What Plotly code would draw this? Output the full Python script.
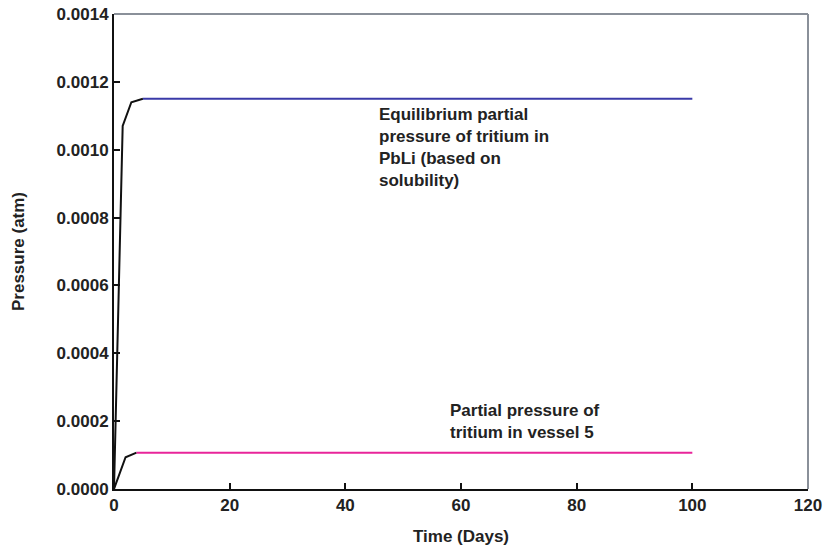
import plotly.graph_objects as go

# Data
t_eq_rise = [0, 1.5, 3, 5]
p_eq_rise = [0, 0.00107, 0.00114, 0.00115]
t_eq_flat = [5, 100]
p_eq_flat = [0.00115, 0.00115]

t_v5_rise = [0, 2, 3.9]
p_v5_rise = [0, 0.0000935, 0.000107]
t_v5_flat = [3.9, 100]
p_v5_flat = [0.000107, 0.000107]

x_ticks = [0, 20, 40, 60, 80, 100, 120]
y_ticks = [0, 0.0002, 0.0004, 0.0006, 0.0008, 0.0010, 0.0012, 0.0014]

FONT = "Liberation Sans Narrow, Arial Narrow, Liberation Sans, Arial, sans-serif"

fig = go.Figure()
fig.add_trace(go.Scatter(x=t_eq_rise, y=p_eq_rise, mode="lines",
                         line=dict(color="#111111", width=2), showlegend=False))
fig.add_trace(go.Scatter(x=t_eq_flat, y=p_eq_flat, mode="lines",
                         line=dict(color="#3a3aa8", width=2), showlegend=False))
fig.add_trace(go.Scatter(x=t_v5_rise, y=p_v5_rise, mode="lines",
                         line=dict(color="#111111", width=2), showlegend=False))
fig.add_trace(go.Scatter(x=t_v5_flat, y=p_v5_flat, mode="lines",
                         line=dict(color="#e8259a", width=2), showlegend=False))

fig.add_annotation(x=45.5, y=0.001138, xref="x", yref="y", xanchor="left", yanchor="top",
                   text="Equilibrium partial<br>pressure of tritium in<br>PbLi (based on<br>solubility)",
                   showarrow=False, align="left",
                   font=dict(family=FONT, size=17, color="#222222", weight="bold"))
fig.add_annotation(x=57.7, y=0.000266, xref="x", yref="y", xanchor="left", yanchor="top",
                   text="Partial pressure of<br>tritium in vessel 5",
                   showarrow=False, align="left",
                   font=dict(family=FONT, size=17, color="#222222", weight="bold"))

# grey top and right frame
fig.add_shape(type="line", xref="paper", yref="paper", x0=0, x1=1, y0=1, y1=1,
              line=dict(color="#8a9099", width=2))
fig.add_shape(type="line", xref="paper", yref="paper", x0=1, x1=1, y0=0, y1=1,
              line=dict(color="#8a9099", width=2))

fig.update_xaxes(range=[0, 120], tickvals=x_ticks, ticks="inside", ticklen=6,
                 tickcolor="#111111", tickwidth=1.5, automargin=False,
                 showline=True, linecolor="#111111", linewidth=2, showgrid=False,
                 zeroline=False,
                 tickfont=dict(family=FONT, size=17, color="#222222", weight="bold"),
                 title=dict(text="Time (Days)", standoff=16,
                            font=dict(family=FONT, size=17, color="#222222", weight="bold")))
fig.update_yaxes(range=[0, 0.0014], tickvals=y_ticks, tickformat=".4f", ticks="inside",
                 ticklen=6, tickcolor="#111111", tickwidth=1.5, automargin=False,
                 showline=True, linecolor="#111111", linewidth=2, showgrid=False,
                 zeroline=False,
                 tickfont=dict(family=FONT, size=17, color="#222222", weight="bold"),
                 title=dict(text="Pressure (atm)", standoff=28,
                            font=dict(family=FONT, size=17, color="#222222", weight="bold")))

fig.update_layout(width=825, height=552, margin=dict(l=114, r=17, t=14, b=63),
                  plot_bgcolor="white", paper_bgcolor="white")

fig.write_html("out.html", config={"displayModeBar": False},
               post_script="document.body.style.margin='0';document.body.style.overflow='hidden';")
